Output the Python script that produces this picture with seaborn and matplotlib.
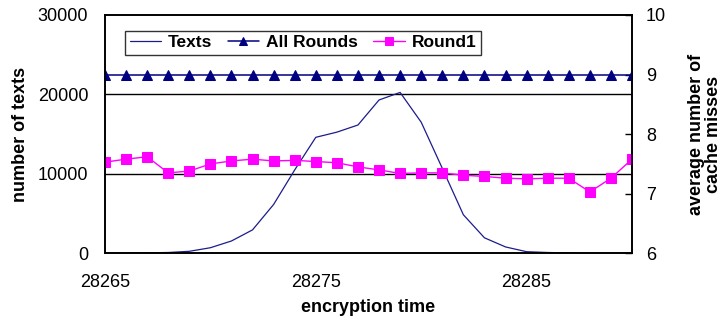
import matplotlib
matplotlib.use("Agg")
import matplotlib.pyplot as plt
import numpy as np
import pandas as pd
import seaborn as sns

# encryption time 28265 .. 28290
times = list(range(28265, 28291))
texts = [20, 40, 60, 100, 250, 700, 1550, 2950, 6150, 10500, 14600, 15250,
         16150, 19300, 20250, 16500, 10700, 4850, 1950, 800, 200, 100, 50, 0, 0, 0]
all_rounds = [9.0] * 26
round1 = [7.53, 7.58, 7.62, 7.35, 7.38, 7.50, 7.55, 7.58, 7.55, 7.56, 7.54, 7.52,
          7.45, 7.40, 7.34, 7.35, 7.35, 7.31, 7.29, 7.26, 7.25, 7.26, 7.26, 7.03,
          7.26, 7.58]

left_ticks = [0, 10000, 20000, 30000]
right_ticks = [6, 7, 8, 9, 10]
x_ticks = [28265, 28275, 28285]

df = pd.DataFrame({"time": times, "Texts": texts,
                   "All Rounds": all_rounds, "Round1": round1})

sns.set_theme(style="white")
plt.rcParams["font.family"] = ["Liberation Sans", "DejaVu Sans"]
plt.rcParams["text.color"] = "black"
plt.rcParams["axes.labelcolor"] = "black"

fig = plt.figure(figsize=(7.21, 3.27), dpi=100)
ax = fig.add_axes([0.1456, 0.2254, 0.7310, 0.7288])
ax2 = ax.twinx()

navy = "#000080"
sns.lineplot(data=df, x="time", y="Texts", ax=ax, color="#1c1c8c", lw=0.9, label="Texts", legend=False)
sns.lineplot(data=df, x="time", y="All Rounds", ax=ax2, color=navy, lw=1.1,
             marker="^", markersize=7, markeredgecolor=navy, label="All Rounds", legend=False)
sns.lineplot(data=df, x="time", y="Round1", ax=ax2, color="#ff00ff", lw=1.0,
             marker="s", markersize=7, markeredgecolor="#ff00ff", label="Round1", legend=False)

ax.set_zorder(1)
ax2.set_zorder(2)
ax.patch.set_visible(False)
ax2.patch.set_visible(False)

ax.set_xlim(28265, 28290)
ax.set_ylim(0, 30000)
ax2.set_ylim(6, 10)
ax.set_xticks(x_ticks)
ax.set_yticks(left_ticks)
ax2.set_yticks(right_ticks)
for v in [10000, 20000]:
    ax.axhline(v, color="black", lw=1.0, zorder=0)

for a in (ax, ax2):
    for s in a.spines.values():
        s.set_color("black")
        s.set_linewidth(1.2)

ax.tick_params(axis="x", direction="in", length=5, width=1, pad=15, labelsize=13, colors="black")
ax.tick_params(axis="y", length=0, pad=12, labelsize=13, colors="black")
ax2.tick_params(axis="y", direction="in", length=5, width=1, pad=10, labelsize=13, colors="black")

ax.set_xlabel("encryption time", fontsize=13, fontweight="bold", labelpad=6)
ax.set_ylabel("number of texts", fontsize=13, fontweight="bold", labelpad=6)
ax2.set_ylabel("average number of\ncache misses", fontsize=13, fontweight="bold",
               labelpad=16, linespacing=0.95)

h1, l1 = ax.get_legend_handles_labels()
h2, l2 = ax2.get_legend_handles_labels()
leg = ax2.legend(h1 + h2, l1 + l2, loc="upper left", bbox_to_anchor=(0.022, 0.97),
                 ncol=3, frameon=True, fancybox=False, edgecolor="black",
                 prop={"weight": "bold", "size": 12.5}, handlelength=1.8,
                 columnspacing=0.9, handletextpad=0.4, borderpad=0.25, markerscale=0.8)
leg.get_frame().set_linewidth(1.0)

fig.savefig("out.png", dpi=100)
